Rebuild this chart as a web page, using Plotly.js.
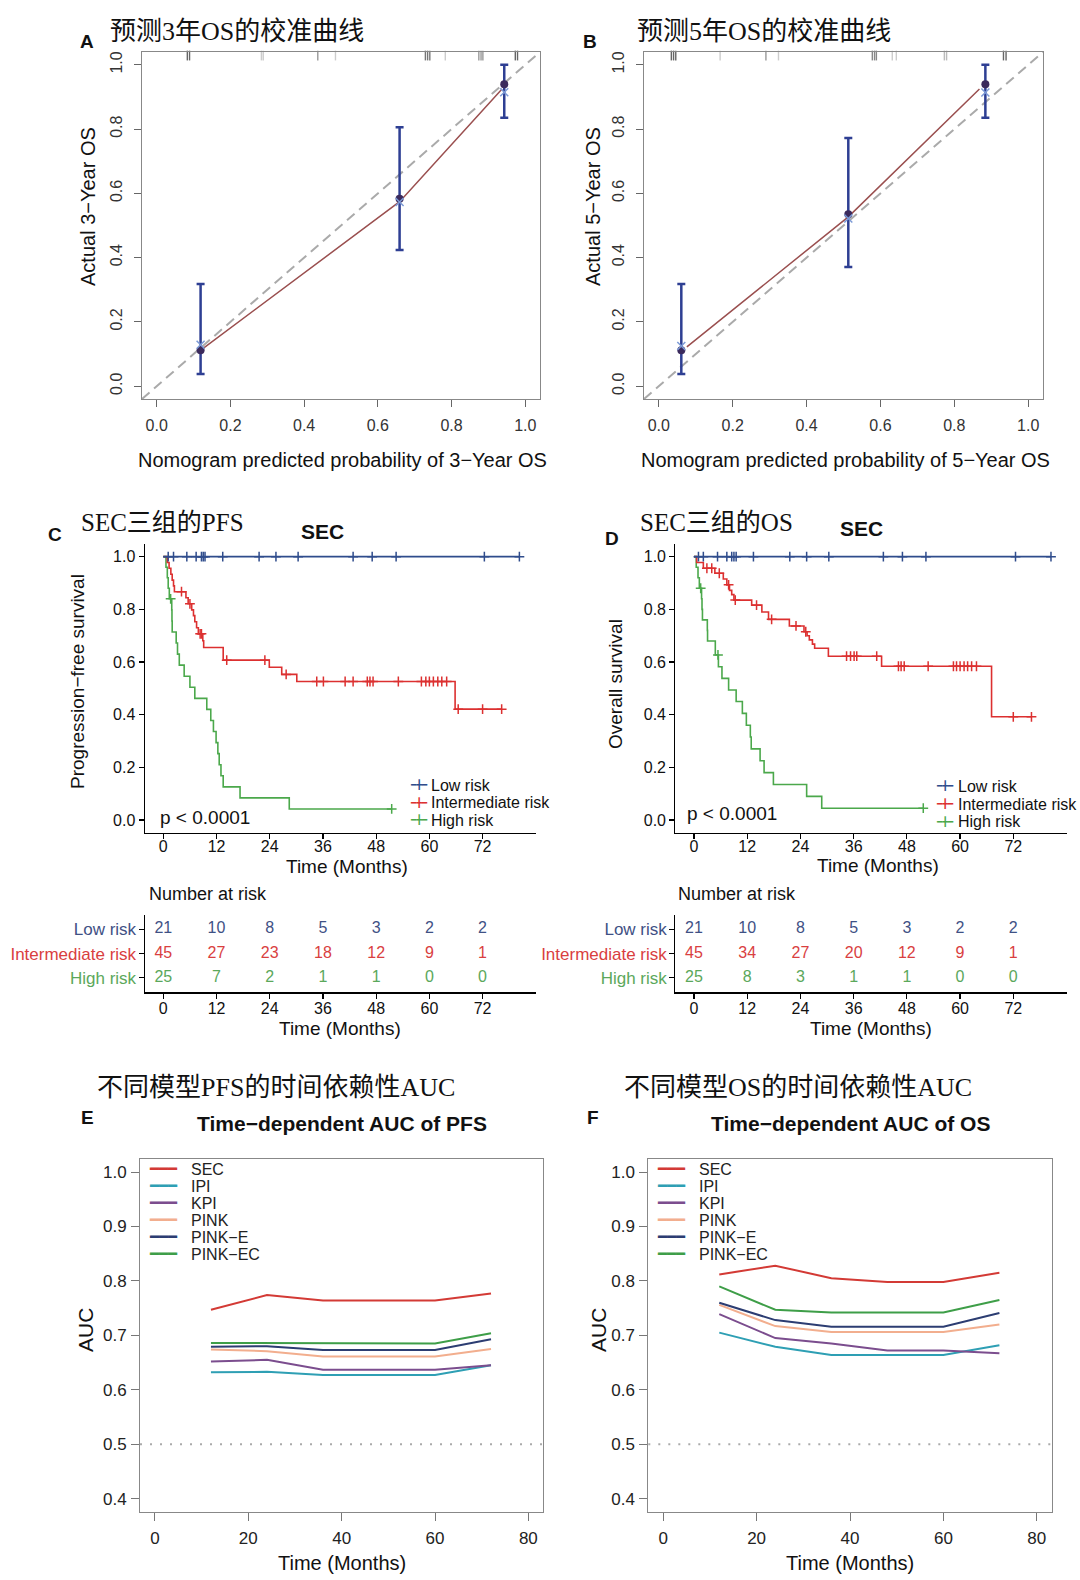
<!DOCTYPE html>
<html><head><meta charset="utf-8">
<script src="https://cdn.plot.ly/plotly-3.0.1.min.js"></script>
<style>html,body{margin:0;padding:0;background:#fff}#chart{width:1080px;height:1580px}</style>
</head><body><div id="chart"></div>
<script>
// ================= DATA =================
// Panel A: calibration, 3-year OS
const calTicks = [0, 0.2, 0.4, 0.6, 0.8, 1.0];
const calA_pred  = [0.119, 0.659, 0.943];
const calA_obs   = [0.112, 0.583, 0.940];
const calA_lower = [0.038, 0.424, 0.835];
const calA_upper = [0.318, 0.806, 1.000];
const calA_corr  = [0.129, 0.573, 0.915];
const calA_lineX = [0.125, 0.659, 0.937];
const calA_lineY = [0.117, 0.574, 0.925];
const calA_rug   = [0.083, 0.089, 0.284, 0.289, 0.437, 0.485, 0.729, 0.735, 0.741, 0.783, 0.874, 0.880, 0.885, 0.973, 0.979];
// Panel B: calibration, 5-year OS
const calB_pred  = [0.061, 0.513, 0.884];
const calB_obs   = [0.112, 0.535, 0.940];
const calB_lower = [0.038, 0.371, 0.835];
const calB_upper = [0.318, 0.772, 1.000];
const calB_corr  = [0.125, 0.522, 0.914];
const calB_lineX = [0.076, 0.513, 0.868];
const calB_lineY = [0.122, 0.527, 0.925];
const calB_rug   = [0.034, 0.040, 0.046, 0.166, 0.290, 0.324, 0.578, 0.584, 0.589, 0.632, 0.643, 0.773, 0.779, 0.933, 0.940];

// Panel C: PFS Kaplan-Meier (event times / survival after event, censor times)
const pfsLow_evT = [];
const pfsLow_evS = [];
const pfsLow_cen = [1.1, 2.3, 5.3, 7.4, 8.6, 9.0, 9.4, 13.4, 21.6, 25.4, 30.4, 42.8, 47.1, 52.5, 72.4, 80.3];
const pfsInt_evT = [0.9, 1.3, 1.7, 2.0, 2.3, 2.5, 5.1, 5.6, 6.4, 6.8, 7.1, 7.5, 7.9, 8.9, 9.1, 13.5, 23.9, 26.7, 30.1, 65.8];
const pfsInt_evS = [0.978, 0.956, 0.933, 0.911, 0.889, 0.867, 0.844, 0.821, 0.798, 0.776, 0.753, 0.730, 0.707, 0.681, 0.655, 0.607, 0.580, 0.553, 0.526, 0.421];
const pfsInt_cen = [4.1, 6.0, 8.3, 8.6, 14.3, 22.9, 27.7, 34.6, 36.1, 41.0, 42.8, 46.0, 46.6, 47.3, 53.0, 58.2, 59.2, 60.0, 60.9, 61.9, 62.8, 63.9, 66.5, 72.0, 76.3];
const pfsHigh_evT = [0.6, 0.9, 1.1, 1.35, 1.9, 1.95, 2.0, 2.9, 3.2, 3.6, 4.7, 6.0, 7.1, 9.8, 10.7, 11.3, 11.9, 12.3, 12.6, 13.0, 13.5, 17.3, 28.4];
const pfsHigh_evS = [0.96, 0.92, 0.88, 0.84, 0.798, 0.756, 0.714, 0.672, 0.630, 0.588, 0.546, 0.504, 0.462, 0.420, 0.378, 0.336, 0.294, 0.252, 0.210, 0.168, 0.126, 0.084, 0.042];
const pfsHigh_cen = [1.65, 51.5];

// Panel D: OS Kaplan-Meier
const osLow_evT = [];
const osLow_evS = [];
const osLow_cen = [1.0, 2.1, 5.3, 7.4, 8.5, 9.0, 9.5, 13.4, 21.6, 25.4, 30.4, 42.7, 47.0, 52.3, 72.5, 80.5];
const osInt_evT = [0.6, 2.1, 4.7, 6.6, 7.4, 8.0, 8.5, 9.0, 13.0, 15.3, 16.8, 21.5, 24.8, 25.5, 26.0, 26.7, 27.2, 30.3, 42.3, 67.1];
const osInt_evS = [0.978, 0.956, 0.937, 0.915, 0.893, 0.872, 0.856, 0.835, 0.816, 0.790, 0.762, 0.737, 0.715, 0.700, 0.684, 0.668, 0.652, 0.622, 0.584, 0.392];
const osInt_cen = [2.9, 4.0, 5.7, 7.8, 9.3, 14.1, 17.5, 23.0, 25.2, 34.4, 35.3, 36.1, 36.7, 41.2, 46.1, 46.7, 47.4, 52.8, 58.5, 59.2, 60.0, 60.9, 61.7, 62.6, 63.7, 72.0, 76.1];
const osHigh_evT = [0.5, 0.9, 1.2, 1.7, 1.8, 1.9, 3.0, 3.05, 4.8, 5.5, 6.3, 7.8, 9.5, 10.9, 11.8, 12.7, 12.9, 14.9, 15.8, 17.9, 25.4, 28.8];
const osHigh_evS = [0.96, 0.92, 0.88, 0.84, 0.80, 0.76, 0.72, 0.68, 0.627, 0.582, 0.538, 0.494, 0.450, 0.405, 0.360, 0.315, 0.270, 0.225, 0.180, 0.135, 0.090, 0.045];
const osHigh_cen = [1.5, 5.4, 51.7];

// Risk tables
const riskTimes = [0, 12, 24, 36, 48, 60, 72];
const riskGroups = ['Low risk', 'Intermediate risk', 'High risk'];
const pfsRiskLow  = [21, 10, 8, 5, 3, 2, 2];
const pfsRiskInt  = [45, 27, 23, 18, 12, 9, 1];
const pfsRiskHigh = [25, 7, 2, 1, 1, 0, 0];
const osRiskLow   = [21, 10, 8, 5, 3, 2, 2];
const osRiskInt   = [45, 34, 27, 20, 12, 9, 1];
const osRiskHigh  = [25, 8, 3, 1, 1, 0, 0];

// Panels E/F: time-dependent AUC
const aucTimes = [12, 24, 36, 48, 60, 72];
const aucModels = ['SEC', 'IPI', 'KPI', 'PINK', 'PINK\u2212E', 'PINK\u2212EC'];
const pfsAUC_SEC    = [0.747, 0.774, 0.764, 0.764, 0.764, 0.777];
const pfsAUC_IPI    = [0.632, 0.633, 0.627, 0.627, 0.627, 0.645];
const pfsAUC_KPI    = [0.652, 0.655, 0.637, 0.637, 0.637, 0.645];
const pfsAUC_PINK   = [0.674, 0.671, 0.661, 0.661, 0.661, 0.675];
const pfsAUC_PINKE  = [0.679, 0.680, 0.673, 0.673, 0.673, 0.693];
const pfsAUC_PINKEC = [0.686, 0.686, 0.685, 0.685, 0.685, 0.704];
const osAUC_SEC    = [0.812, 0.828, 0.805, 0.798, 0.798, 0.815];
const osAUC_IPI    = [0.705, 0.679, 0.664, 0.664, 0.664, 0.682];
const osAUC_KPI    = [0.739, 0.695, 0.685, 0.672, 0.672, 0.667];
const osAUC_PINK   = [0.756, 0.717, 0.706, 0.706, 0.706, 0.720];
const osAUC_PINKE  = [0.760, 0.728, 0.716, 0.716, 0.716, 0.741];
const osAUC_PINKEC = [0.790, 0.747, 0.742, 0.742, 0.742, 0.765];
const aucReference = 0.5;

// ================= STYLE =================
const W = 1080, H = 1580;
const SANS = 'Liberation Sans, Arial, Helvetica, sans-serif';
const CJK = 'Liberation Serif, Noto Sans CJK SC, serif';
const GLYPH = 'DejaVu Sans, sans-serif';
const kmColors = ['#2F4C8C', '#DC3030', '#4BA84B'];
const tableColors = ['#3F5185', '#D9403F', '#5BA85B'];
const aucColors = ['#D33A35', '#2E9FB4', '#7B4D8E', '#F2AE8E', '#2C3D72', '#3E9E48'];
const rugShadeA = ['#666','#666','#ccc','#ccc','#999','#ccc','#777','#777','#777','#ccc','#999','#999','#999','#666','#666'];
const rugShadeB = ['#666','#666','#666','#ccc','#999','#ccc','#888','#888','#888','#ccc','#ccc','#bbb','#bbb','#666','#666'];

const fx = v => v / W;
const fy = v => 1 - v / H;
const dX = (a, b) => [fx(a), fx(b)];
const dY = (top, bottom) => [fy(bottom), fy(top)];

function annot(text, x, y, font, extra) {
  return Object.assign({ text, x: fx(x), y: fy(y), xref: 'paper', yref: 'paper', showarrow: false,
    xanchor: 'center', yanchor: 'middle', font: Object.assign({ family: SANS, size: 18, color: '#111' }, font || {}) }, extra || {});
}

// ================= TRACES =================
const traces = [];
const calRange = [-0.04, 1.04];

function calTraces(pred, obs, lower, upper, corr, lineX, lineY, rug, rugShade, xa, ya) {
  const rugY = rug.map(() => calRange[1] - 0.011);
  traces.push({ type: 'scatter', mode: 'markers', x: rug, y: rugY, xaxis: xa, yaxis: ya, cliponaxis: false,
    marker: { symbol: 'line-ns-open', size: 7, color: rugShade, line: { width: 1.4 } } });
  traces.push({ type: 'scatter', mode: 'lines', x: lineX, y: lineY, xaxis: xa, yaxis: ya,
    line: { color: '#9A4F4F', width: 1.5 } });
  traces.push({ type: 'scatter', mode: 'markers', x: pred, y: obs, xaxis: xa, yaxis: ya, cliponaxis: false,
    error_y: { type: 'data', symmetric: false, array: upper.map((u, i) => u - obs[i]), arrayminus: lower.map((l, i) => obs[i] - l),
      color: '#2E3F93', thickness: 2.5, width: 4 },
    marker: { symbol: 'circle', size: 8, color: '#3B2A5C' } });
  traces.push({ type: 'scatter', mode: 'markers', x: pred, y: corr, xaxis: xa, yaxis: ya,
    marker: { symbol: 'x-thin-open', size: 8, color: '#7C9AD6', line: { width: 1.5 } } });
}
calTraces(calA_pred, calA_obs, calA_lower, calA_upper, calA_corr, calA_lineX, calA_lineY, calA_rug, rugShadeA, 'x', 'y');
calTraces(calB_pred, calB_obs, calB_lower, calB_upper, calB_corr, calB_lineX, calB_lineY, calB_rug, rugShadeB, 'x2', 'y2');

function kmTraces(evT, evS, cen, color, xa, ya) {
  const pts = [{ t: 0, s: 1, c: false }];
  evT.forEach((t, i) => pts.push({ t, s: evS[i], c: false }));
  cen.forEach(t => pts.push({ t, s: null, c: true }));
  pts.sort((a, b) => a.t - b.t);
  let cur = 1;
  pts.forEach(p => { if (p.c) p.s = cur; else cur = p.s; });
  traces.push({ type: 'scatter', mode: 'lines', x: pts.map(p => p.t), y: pts.map(p => p.s), xaxis: xa, yaxis: ya,
    line: { shape: 'hv', color, width: 1.6 } });
  const c = pts.filter(p => p.c);
  traces.push({ type: 'scatter', mode: 'markers', x: c.map(p => p.t), y: c.map(p => p.s), xaxis: xa, yaxis: ya, cliponaxis: false,
    marker: { symbol: 'cross-thin-open', size: 7, color, line: { width: 1.5 } } });
}
kmTraces(pfsHigh_evT, pfsHigh_evS, pfsHigh_cen, kmColors[2], 'x3', 'y3');
kmTraces(pfsInt_evT, pfsInt_evS, pfsInt_cen, kmColors[1], 'x3', 'y3');
kmTraces(pfsLow_evT, pfsLow_evS, pfsLow_cen, kmColors[0], 'x3', 'y3');
kmTraces(osHigh_evT, osHigh_evS, osHigh_cen, kmColors[2], 'x4', 'y4');
kmTraces(osInt_evT, osInt_evS, osInt_cen, kmColors[1], 'x4', 'y4');
kmTraces(osLow_evT, osLow_evS, osLow_cen, kmColors[0], 'x4', 'y4');

function riskRows(rows, xa, ya) {
  rows.forEach((vals, i) => {
    const level = 3 - i;
    traces.push({ type: 'scatter', mode: 'text', x: riskTimes, y: riskTimes.map(() => level), text: vals.map(String),
      xaxis: xa, yaxis: ya, cliponaxis: false, textposition: 'middle center',
      textfont: { family: SANS, size: 16, color: tableColors[i] } });
  });
}
riskRows([pfsRiskLow, pfsRiskInt, pfsRiskHigh], 'x5', 'y5');
riskRows([osRiskLow, osRiskInt, osRiskHigh], 'x6', 'y6');

function aucTraces(series, xa, ya) {
  series.forEach((vals, i) => {
    traces.push({ type: 'scatter', mode: 'lines', x: aucTimes, y: vals, xaxis: xa, yaxis: ya,
      line: { color: aucColors[i], width: 2 } });
  });
}
aucTraces([pfsAUC_SEC, pfsAUC_IPI, pfsAUC_KPI, pfsAUC_PINK, pfsAUC_PINKE, pfsAUC_PINKEC], 'x7', 'y7');
aucTraces([osAUC_SEC, osAUC_IPI, osAUC_KPI, osAUC_PINK, osAUC_PINKE, osAUC_PINKEC], 'x8', 'y8');

// ================= AXES =================
function calAxis(domain, anchor, isY) {
  return { domain, anchor, range: calRange, tickvals: calTicks, tickformat: '.1f', ticks: 'outside', ticklen: 7,
    tickwidth: 1, tickcolor: '#666', showline: true, mirror: true, linecolor: '#888', linewidth: 1,
    showgrid: false, zeroline: false, tickangle: isY ? -90 : 0, ticklabelstandoff: isY ? 6 : 5,
    tickfont: { family: SANS, size: 16, color: '#333' } };
}
function kmAxis(domain, anchor, range, tickvals, fmt, standoff) {
  return { domain, anchor, range, tickvals, tickformat: fmt, ticks: 'outside', ticklen: 5, tickwidth: 1.2,
    tickcolor: '#000', showline: true, mirror: false, linecolor: '#000', linewidth: 1.2, showgrid: false,
    zeroline: false, ticklabelstandoff: standoff, tickfont: { family: SANS, size: 16, color: '#111' } };
}
function aucAxis(domain, anchor, range, tickvals, fmt, standoff) {
  return { domain, anchor, range, tickvals, tickformat: fmt, ticks: 'outside', ticklen: 8, tickwidth: 1,
    tickcolor: '#777', showline: true, mirror: true, linecolor: '#888', linewidth: 1, showgrid: false,
    zeroline: false, ticklabelstandoff: standoff, tickfont: { family: SANS, size: 17, color: '#222' } };
}
const kmX = [-4.2, 84];
const kmYTicks = [0, 0.2, 0.4, 0.6, 0.8, 1.0];
const tableTicktext = riskGroups.map((g, i) => '<span style="color:' + tableColors[i] + '">' + g + '</span>').reverse();

const layout = {
  width: W, height: H, margin: { l: 0, r: 0, t: 0, b: 0, pad: 0 },
  paper_bgcolor: '#fff', plot_bgcolor: 'rgba(0,0,0,0)', showlegend: false,
  font: { family: SANS, color: '#111' },
  xaxis: calAxis(dX(142, 540), 'y', false),
  yaxis: calAxis(dY(52, 399), 'x', true),
  xaxis2: calAxis(dX(644, 1043), 'y2', false),
  yaxis2: calAxis(dY(52, 399), 'x2', true),
  xaxis3: kmAxis(dX(144.7, 535.8), 'y3', kmX, riskTimes, '', -7),
  yaxis3: kmAxis(dY(543.5, 833.2), 'x3', [-0.05, 1.05], kmYTicks, '.1f', 0),
  xaxis4: kmAxis(dX(675.4, 1066.5), 'y4', kmX, riskTimes, '', -7),
  yaxis4: kmAxis(dY(543.5, 833.2), 'x4', [-0.05, 1.05], kmYTicks, '.1f', 0),
  xaxis5: kmAxis(dX(144.7, 535.8), 'y5', kmX, riskTimes, '', -4),
  yaxis5: Object.assign(kmAxis(dY(915, 992.3), 'x5', [0.4, 3.6], [1, 2, 3], '', -1), { ticktext: tableTicktext, tickfont: { family: SANS, size: 17 } }),
  xaxis6: kmAxis(dX(675.4, 1066.5), 'y6', kmX, riskTimes, '', -4),
  yaxis6: Object.assign(kmAxis(dY(915, 992.3), 'x6', [0.4, 3.6], [1, 2, 3], '', -1), { ticktext: tableTicktext, tickfont: { family: SANS, size: 17 } }),
  xaxis7: aucAxis(dX(140, 543.3), 'y7', [-3.2, 83.2], [0, 20, 40, 60, 80], '', 3),
  yaxis7: aucAxis(dY(1159, 1511.7), 'x7', [0.376, 1.024], [0.4, 0.5, 0.6, 0.7, 0.8, 0.9, 1.0], '.1f', 1),
  xaxis8: aucAxis(dX(648.3, 1051.7), 'y8', [-3.2, 83.2], [0, 20, 40, 60, 80], '', 3),
  yaxis8: aucAxis(dY(1159, 1511.7), 'x8', [0.376, 1.024], [0.4, 0.5, 0.6, 0.7, 0.8, 0.9, 1.0], '.1f', 1),
  shapes: [
    { type: 'line', xref: 'x domain', yref: 'y domain', x0: 0, y0: 0, x1: 1, y1: 1, layer: 'below', line: { color: '#aaa', width: 2, dash: '10px,6px' } },
    { type: 'line', xref: 'x2 domain', yref: 'y2 domain', x0: 0, y0: 0, x1: 1, y1: 1, layer: 'below', line: { color: '#aaa', width: 2, dash: '10px,6px' } },
    { type: 'line', xref: 'x7 domain', yref: 'y7', x0: 0, x1: 1, y0: aucReference, y1: aucReference, layer: 'below', line: { color: '#aaa', width: 2, dash: '2px,8px' } },
    { type: 'line', xref: 'x8 domain', yref: 'y8', x0: 0, x1: 1, y0: aucReference, y1: aucReference, layer: 'below', line: { color: '#aaa', width: 2, dash: '2px,8px' } }
  ],
  annotations: []
};

// ================= TEXT =================
const A = layout.annotations;
const bold = t => '<b>' + t + '</b>';
// Panel A / B
A.push(annot(bold('A'), 87, 41, { size: 19 }));
A.push(annot('预测3年OS的校准曲线', 108, 32, { family: CJK, size: 26 }, { xanchor: 'left' }));
A.push(annot('Actual 3\u2212Year OS', 88, 207, { size: 20 }, { textangle: -90 }));
A.push(annot('Nomogram predicted probability of 3\u2212Year OS', 342, 460, { size: 20 }));
A.push(annot(bold('B'), 590, 41, { size: 19 }));
A.push(annot('预测5年OS的校准曲线', 635, 32, { family: CJK, size: 26 }, { xanchor: 'left' }));
A.push(annot('Actual 5\u2212Year OS', 593, 207, { size: 20 }, { textangle: -90 }));
A.push(annot('Nomogram predicted probability of 5\u2212Year OS', 845, 460, { size: 20 }));
// Panel C / D
A.push(annot(bold('C'), 55, 534, { size: 19 }));
A.push(annot('SEC三组的PFS', 79, 522, { family: CJK, size: 25 }, { xanchor: 'left' }));
A.push(annot(bold('SEC'), 322, 531, { size: 21 }));
A.push(annot('Progression\u2212free survival', 77, 682, { size: 19 }, { textangle: -90 }));
A.push(annot('Time (Months)', 347, 866, { size: 19 }));
A.push(annot('p < 0.0001', 158, 817, { size: 19 }, { xanchor: 'left' }));
A.push(annot(bold('D'), 612, 538, { size: 19 }));
A.push(annot('SEC三组的OS', 638, 522, { family: CJK, size: 25 }, { xanchor: 'left' }));
A.push(annot(bold('SEC'), 861, 528, { size: 21 }));
A.push(annot('Overall survival', 615, 684, { size: 19 }, { textangle: -90 }));
A.push(annot('Time (Months)', 878, 865, { size: 19 }));
A.push(annot('p < 0.0001', 685, 813, { size: 19 }, { xanchor: 'left' }));
function kmLegend(keyX, textX, rowY) {
  riskGroups.forEach((g, i) => {
    A.push(annot('\u2501\u254B\u2501', keyX, rowY[i], { family: GLYPH, size: 9, color: kmColors[i] }));
    A.push(annot(g, textX, rowY[i], { size: 16, color: '#111' }, { xanchor: 'left' }));
  });
}
kmLegend(419, 429.3, [785, 802.7, 820.3]);
kmLegend(945, 956, [786, 804, 821.7]);
// Risk tables
A.push(annot('Number at risk', 146.7, 894, { size: 18 }, { xanchor: 'left' }));
A.push(annot('Time (Months)', 340, 1028, { size: 19 }));
A.push(annot('Number at risk', 675.7, 894, { size: 18 }, { xanchor: 'left' }));
A.push(annot('Time (Months)', 871, 1028, { size: 19 }));
// Panel E / F
A.push(annot('不同模型PFS的时间依赖性AUC', 95, 1087, { family: CJK, size: 26 }, { xanchor: 'left' }));
A.push(annot(bold('E'), 87, 1117, { size: 19 }));
A.push(annot(bold('Time\u2212dependent AUC of PFS'), 342, 1123, { size: 21 }));
A.push(annot('AUC', 85, 1330, { size: 21 }, { textangle: -90 }));
A.push(annot('Time (Months)', 342, 1563, { size: 20 }));
A.push(annot('不同模型OS的时间依赖性AUC', 622, 1087, { family: CJK, size: 26 }, { xanchor: 'left' }));
A.push(annot(bold('F'), 593, 1117, { size: 19 }));
A.push(annot(bold('Time\u2212dependent AUC of OS'), 850, 1123, { size: 21 }));
A.push(annot('AUC', 598, 1330, { size: 21 }, { textangle: -90 }));
A.push(annot('Time (Months)', 850, 1563, { size: 20 }));
function aucLegend(keyX, textX) {
  aucModels.forEach((m, i) => {
    const y = 1169.3 + 17 * i;
    A.push(annot('\u2501\u2501\u2501', keyX, y, { family: GLYPH, size: 15, color: aucColors[i] }));
    A.push(annot(m, textX, y, { size: 16, color: '#222' }, { xanchor: 'left' }));
  });
}
aucLegend(163.3, 189.3);
aucLegend(671.7, 697.3);

Plotly.newPlot('chart', traces, layout, { staticPlot: true, displayModeBar: false });
</script>
</body></html>
